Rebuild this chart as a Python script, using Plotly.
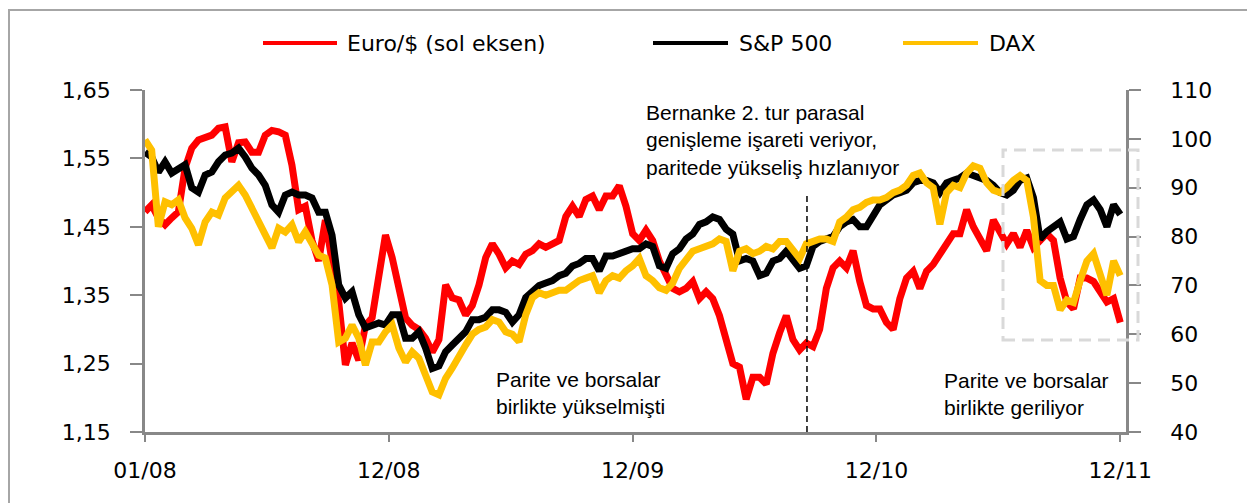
import pandas as pd
import plotly.graph_objects as go

# ---------------- data ----------------
dates = pd.date_range("2008-01-01", periods=147, freq="10D")

euro_usd = [
    1.472, 1.482, 1.463, 1.453, 1.463, 1.472, 1.536, 1.565, 1.577, 1.580,
    1.584, 1.594, 1.596, 1.545, 1.573, 1.574, 1.559, 1.559, 1.584, 1.591,
    1.589, 1.584, 1.540, 1.475, 1.480, 1.430, 1.400, 1.460, 1.400, 1.340,
    1.248, 1.280, 1.255, 1.306, 1.317, 1.384, 1.438, 1.405, 1.365, 1.317,
    1.306, 1.300, 1.287, 1.267, 1.285, 1.365, 1.346, 1.343, 1.321, 1.335,
    1.365, 1.405, 1.425, 1.410, 1.390, 1.400, 1.395, 1.410, 1.415, 1.425,
    1.420, 1.425, 1.430, 1.465, 1.480, 1.465, 1.490, 1.495, 1.475, 1.495,
    1.495, 1.510, 1.480, 1.440, 1.430, 1.445, 1.430, 1.400, 1.380, 1.360,
    1.355, 1.360, 1.370, 1.345, 1.355, 1.345, 1.320, 1.280, 1.250, 1.245,
    1.198, 1.230, 1.230, 1.220, 1.265, 1.295, 1.320, 1.285, 1.270, 1.280,
    1.275, 1.300, 1.360, 1.390, 1.400, 1.390, 1.415, 1.370, 1.335, 1.330,
    1.330, 1.310, 1.300, 1.345, 1.375, 1.385, 1.360, 1.385, 1.395, 1.410,
    1.425, 1.440, 1.440, 1.475, 1.450, 1.430, 1.415, 1.460, 1.440, 1.425,
    1.440, 1.420, 1.445, 1.420, 1.430, 1.440, 1.430, 1.375, 1.340, 1.330,
    1.375, 1.375, 1.370, 1.355, 1.340, 1.345, 1.310,
]

sp500 = [
    97.3, 96.3, 93.2, 95.3, 93.0, 94.0, 94.7, 90.0, 89.1, 92.6,
    93.2, 95.3, 96.7, 97.1, 98.1, 96.3, 94.0, 92.6, 90.5, 86.5,
    85.0, 88.5, 89.1, 88.5, 88.5, 87.9, 85.0, 85.0, 80.3, 70.1,
    67.4, 68.7, 64.0, 61.3, 61.9, 62.3, 61.9, 64.0, 64.0, 59.2,
    59.2, 60.5, 57.2, 53.0, 53.5, 56.4, 57.8, 59.2, 60.5, 63.0,
    63.0, 63.5, 65.0, 65.0, 64.5, 62.5, 64.0, 67.5, 69.0, 70.0,
    70.5, 71.0, 72.0, 72.5, 74.0, 74.5, 75.5, 75.5, 73.0, 76.0,
    76.0, 76.5, 77.0, 77.5, 77.5, 78.5, 78.0, 74.0, 73.5, 76.5,
    77.5, 79.5, 80.5, 82.5, 83.0, 84.0, 83.5, 81.5, 80.5, 75.0,
    75.5, 75.0, 72.0, 72.5, 75.0, 75.5, 77.0, 75.0, 73.5, 74.0,
    78.0, 79.0, 79.5, 80.0, 82.0, 83.0, 83.5, 82.0, 82.0, 84.5,
    86.5, 87.5, 88.5, 89.0, 89.5, 91.0, 91.5, 91.5, 91.0, 89.0,
    91.0, 91.5, 92.0, 93.0, 92.5, 92.0, 91.5, 90.5, 89.0, 88.5,
    89.5, 91.5, 92.0, 88.0, 79.5, 81.0, 82.0, 83.0, 79.5, 80.0,
    83.5, 86.5, 87.5, 85.5, 82.0, 86.5, 84.5,
]

dax = [
    99.8, 97.7, 82.0, 87.1, 86.5, 87.5, 83.8, 81.7, 78.3, 83.0,
    85.0, 84.4, 87.9, 89.1, 90.5, 88.5, 85.8, 83.8, 81.0, 77.7,
    81.7, 80.9, 82.4, 78.9, 81.0, 78.3, 76.2, 75.6, 70.1, 58.4,
    59.2, 61.9, 59.2, 53.7, 58.4, 58.4, 60.5, 61.9, 57.2, 54.3,
    56.4, 55.1, 51.7, 48.2, 47.6, 51.0, 53.1, 55.8, 57.8, 60.0,
    61.0, 61.5, 63.0, 62.5, 60.5, 60.0, 58.5, 64.0, 67.5, 68.5,
    68.0, 68.5, 69.0, 69.0, 70.0, 71.0, 71.5, 72.0, 68.5, 71.0,
    72.0, 71.5, 73.0, 74.0, 75.5, 72.0, 71.0, 69.5, 69.0, 70.5,
    73.5, 75.5, 77.0, 77.5, 78.0, 78.5, 79.5, 79.0, 73.0, 77.0,
    77.5, 76.5, 77.0, 78.0, 77.5, 79.0, 79.0, 77.0, 75.5, 78.5,
    79.0, 79.5, 79.5, 79.0, 83.0, 84.0, 85.5, 86.0, 87.0, 87.5,
    87.5, 88.0, 89.0, 89.5, 90.5, 92.5, 93.0, 91.0, 90.0, 82.5,
    89.0, 90.5, 90.0, 93.0, 94.5, 94.0, 91.0, 89.5, 89.0, 90.0,
    91.5, 92.5, 91.5, 84.0, 71.0, 70.0, 70.0, 65.0, 67.0, 66.5,
    71.0, 75.0, 76.5, 72.5, 68.0, 75.0, 72.0,
]

series_names = ["Euro/$ (sol eksen)", "S&P 500", "DAX"]
series_colors = ["#FF0000", "#000000", "#FFC000"]

x_tick_vals = ["2008-01-01", "2008-12-31", "2009-12-31", "2010-12-31", "2011-12-31"]
x_tick_text = ["01/08", "12/08", "12/09", "12/10", "12/11"]
left_ticks = [1.15, 1.25, 1.35, 1.45, 1.55, 1.65]
right_ticks = [40, 50, 60, 70, 80, 90, 100, 110]

event_date = "2010-09-18"
note_qe2 = "Bernanke 2. tur parasal<br>genişleme işareti veriyor,<br>paritede yükseliş hızlanıyor"
note_up = "Parite ve borsalar<br>birlikte yükselmişti"
note_down = "Parite ve borsalar<br>birlikte geriliyor"

# ---------------- layout geometry ----------------
# the page body has an 8px margin, so the figure is drawn 8px smaller and the
# target page-pixel positions are converted to figure pixels.
OFF = 8
W, H = 1255 - OFF, 503 - OFF
PL, PR, PT, PB = 145 - OFF, 1126 - OFF, 90 - OFF, 432 - OFF   # plot area (figure px)


def px(xp_page):
    return (xp_page - OFF - PL) / (PR - PL)


def py(yp_page):
    return (PB - (yp_page - OFF)) / (PB - PT)


AXIS_COLOR = "#888888"
TICK_FONT = dict(family="DejaVu Sans", size=22, color="#000000")
NOTE_FONT = dict(family="Liberation Sans, Arial", size=21, color="#000000")

fig = go.Figure()
fig.add_trace(go.Scatter(x=dates, y=euro_usd, name=series_names[0], mode="lines",
                         line=dict(color=series_colors[0], width=7), yaxis="y",
                         showlegend=False))
fig.add_trace(go.Scatter(x=dates, y=sp500, name=series_names[1], mode="lines",
                         line=dict(color=series_colors[1], width=7), yaxis="y2",
                         showlegend=False))
fig.add_trace(go.Scatter(x=dates, y=dax, name=series_names[2], mode="lines",
                         line=dict(color=series_colors[2], width=7), yaxis="y2",
                         showlegend=False))

shapes = []
annotations = []

# outer frame
shapes.append(dict(type="rect", xref="paper", yref="paper",
                   x0=px(9), x1=px(1300), y0=py(560), y1=py(10),
                   line=dict(color="#A6A6A6", width=2), fillcolor="rgba(0,0,0,0)",
                   layer="below"))

# custom legend
legend_items = [(263, 337, 345), (653, 728, 737), (903, 978, 987)]
for (lx0, lx1, tx), name, color in zip(legend_items, series_names, series_colors):
    shapes.append(dict(type="line", xref="paper", yref="paper",
                       x0=px(lx0), x1=px(lx1), y0=py(43), y1=py(43),
                       line=dict(color=color, width=4)))
    annotations.append(dict(text=name, xref="paper", yref="paper",
                            x=px(tx), y=py(44), xanchor="left", yanchor="middle",
                            showarrow=False,
                            font=dict(family="DejaVu Sans", size=22, color="#000000")))

# event line
shapes.append(dict(type="line", xref="x", yref="paper",
                   x0=event_date, x1=event_date, y0=0, y1=py(195),
                   line=dict(color="#000000", width=1.5, dash="6px,4px")))

# highlight box
shapes.append(dict(type="rect", xref="paper", yref="paper",
                   x0=px(1003), x1=px(1138), y0=py(340), y1=py(150),
                   line=dict(color="#D9D9D9", width=3, dash="12px,7px"),
                   fillcolor="rgba(0,0,0,0)"))

annotations.append(dict(text=note_qe2, xref="paper", yref="paper", x=px(644), y=py(140),
                        xanchor="left", yanchor="middle", align="left",
                        showarrow=False, font=NOTE_FONT))
annotations.append(dict(text=note_up, xref="paper", yref="paper", x=px(494), y=py(393),
                        xanchor="left", yanchor="middle", align="left",
                        showarrow=False, font=NOTE_FONT))
annotations.append(dict(text=note_down, xref="paper", yref="paper", x=px(942), y=py(394),
                        xanchor="left", yanchor="middle", align="left",
                        showarrow=False, font=NOTE_FONT))

fig.update_layout(
    width=W, height=H,
    margin=dict(l=PL, r=W - PR, t=PT, b=H - PB, pad=0),
    paper_bgcolor="#FFFFFF", plot_bgcolor="#FFFFFF",
    separators=", ",
    showlegend=False,
    shapes=shapes,
    annotations=annotations,
    xaxis=dict(type="date", range=["2008-01-01", "2012-01-08 14:00"],
               tickmode="array", tickvals=x_tick_vals, ticktext=x_tick_text,
               ticks="outside", ticklen=7, tickwidth=2, tickcolor=AXIS_COLOR,
               showline=True, linecolor=AXIS_COLOR, linewidth=2.5,
               showgrid=False, zeroline=False, tickfont=TICK_FONT,
               ticklabelstandoff=10),
    yaxis=dict(range=[1.15, 1.65], tickmode="array", tickvals=left_ticks,
               tickformat=".2f", ticks="outside", ticklen=12, tickwidth=2,
               tickcolor=AXIS_COLOR, showline=True, linecolor=AXIS_COLOR,
               linewidth=2.5, showgrid=False, zeroline=False, tickfont=TICK_FONT,
               ticklabelstandoff=15),
    yaxis2=dict(range=[40, 110], overlaying="y", side="right", tickmode="array",
                tickvals=right_ticks, ticks="outside", ticklen=12, tickwidth=2,
                tickcolor=AXIS_COLOR, showline=True, linecolor=AXIS_COLOR,
                linewidth=2.5, showgrid=False, zeroline=False, tickfont=TICK_FONT,
                ticklabelstandoff=25),
)

fig.write_html("out.html")
